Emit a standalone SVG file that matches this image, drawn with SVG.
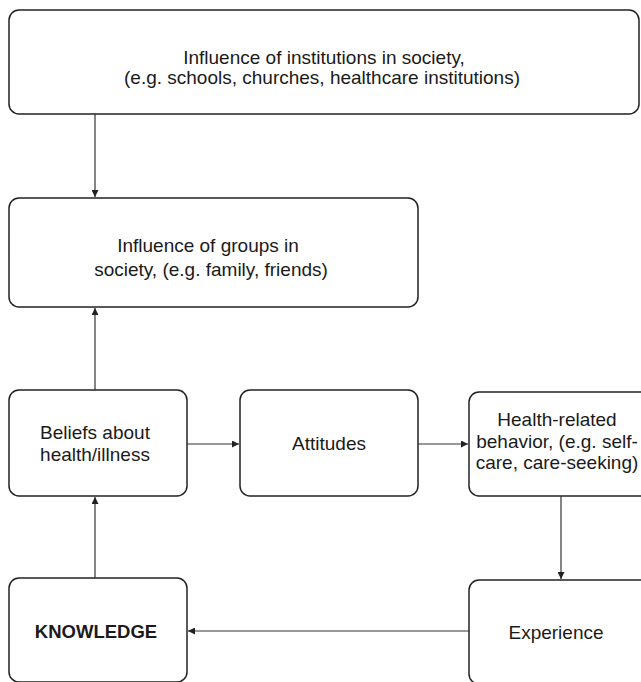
<svg xmlns="http://www.w3.org/2000/svg" width="641" height="682" viewBox="0 0 641 682">
<defs>
<style>
.box{fill:#fff;stroke:#222;stroke-width:1.5}
.t{font-family:"Liberation Sans",Arial,sans-serif;font-size:19px;fill:#1a1a1a;text-anchor:middle}
.b{font-weight:bold;font-size:18.5px}
.c{stroke:#333;stroke-width:1.2;fill:none;marker-end:url(#ah)}
</style>
<marker id="ah" viewBox="0 0 10 10" refX="10" refY="5" markerWidth="7" markerHeight="7" markerUnits="userSpaceOnUse" orient="auto">
<path d="M0,0 L10,5 L0,10 z" fill="#222"/>
</marker>
</defs>
<rect width="641" height="682" fill="#fff"/>
<g id="institutions">
<rect class="box" x="9" y="10" width="630" height="104" rx="10"/>
<text class="t" x="324" y="64">Influence of institutions in society,</text>
<text class="t" x="322" y="84">(e.g. schools, churches, healthcare institutions)</text>
</g>
<g id="groups">
<rect class="box" x="9" y="198" width="409" height="109" rx="10"/>
<text class="t" x="208" y="252">Influence of groups in</text>
<text class="t" x="211" y="276">society, (e.g. family, friends)</text>
</g>
<g id="beliefs">
<rect class="box" x="9" y="390" width="178" height="106" rx="10"/>
<text class="t" x="95" y="439">Beliefs about</text>
<text class="t" x="95" y="461">health/illness</text>
</g>
<g id="attitudes">
<rect class="box" x="240" y="390" width="178" height="106" rx="10"/>
<text class="t" x="329" y="450">Attitudes</text>
</g>
<g id="behavior">
<rect class="box" x="469" y="392" width="190" height="104" rx="10"/>
<text class="t" x="557" y="426">Health-related</text>
<text class="t" x="557" y="448">behavior, (e.g. self-</text>
<text class="t" x="557" y="469">care, care-seeking)</text>
</g>
<g id="knowledge">
<rect class="box" x="9" y="578" width="178" height="104" rx="10"/>
<text class="t b" x="96" y="638">KNOWLEDGE</text>
</g>
<g id="experience">
<rect class="box" x="469" y="580" width="190" height="104" rx="10"/>
<text class="t" x="556" y="639">Experience</text>
</g>
<g id="connectors">
<line class="c" x1="95" y1="114" x2="95" y2="197"/>
<line class="c" x1="95" y1="390" x2="95" y2="308"/>
<line class="c" x1="187" y1="444" x2="239" y2="444"/>
<line class="c" x1="418" y1="444" x2="468" y2="444"/>
<line class="c" x1="561" y1="496" x2="561" y2="579"/>
<line class="c" x1="469" y1="631" x2="188" y2="631"/>
<line class="c" x1="95" y1="578" x2="95" y2="497"/>
</g>
</svg>
